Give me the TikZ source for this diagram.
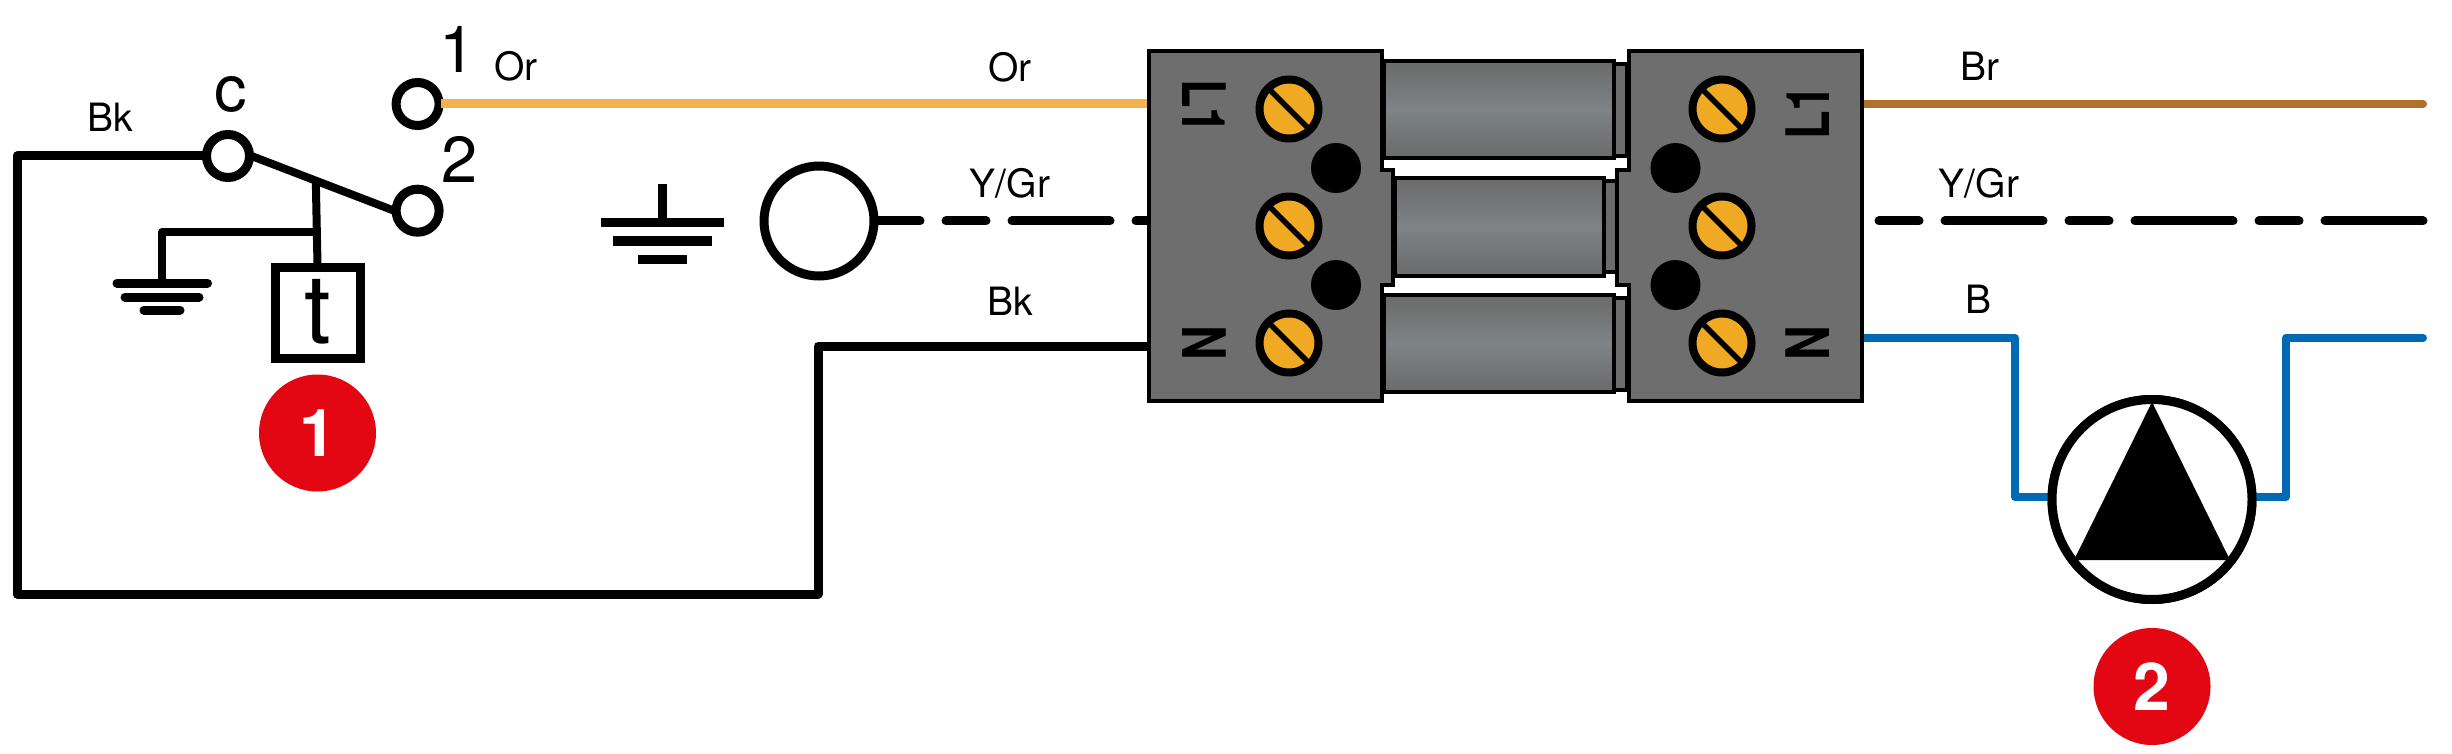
\documentclass[tikz,border=0pt]{standalone}
\usepackage{fontspec}
\setmainfont{TeX Gyre Heros}
\definecolor{wireOr}{HTML}{F5B04F}
\definecolor{wireBr}{HTML}{B36F2C}
\definecolor{wireBl}{HTML}{0069B4}
\definecolor{badge}{HTML}{E30613}
\definecolor{blockgray}{HTML}{6E6E6E}
\definecolor{cylmid}{HTML}{7E8385}
\definecolor{cyledge}{HTML}{6A6A6A}
\definecolor{screwc}{HTML}{EFA922}
\newcommand{\fs}[1]{\fontsize{#1}{#1}\selectfont}
\tikzset{
  wire/.style={line width=9pt,line cap=butt,line join=round,black},
  thinwire/.style={line width=8pt,line join=round,line cap=butt},
  terminal/.style={circle,draw=black,fill=white,line width=9pt,inner sep=0pt,minimum size=43pt,outer sep=2pt},
  lab/.style={inner sep=0pt,anchor=base,font=\fs{39}},
  biglab/.style={inner sep=0pt,anchor=base,font=\fs{65}},
  badgec/.style={circle,fill=badge,text=white,inner sep=0pt,minimum size=117pt,font=\fs{66}\bfseries},
  gbar/.style={line width=9pt,line cap=round},
  ebar/.style={line width=9pt,line cap=butt},
  blockp/.style={draw=black,fill=blockgray,line width=4.5pt,line join=miter},
  cyl/.style={draw=black,line width=4.5pt,top color=cyledge,bottom color=cyledge,middle color=cylmid},
  collar/.style={draw=black,fill=gray!85!black,line width=3.5pt},
  screw/.style={circle,draw=black,fill=screwc,line width=8pt,inner sep=0pt,minimum size=59pt},
  dot/.style={circle,fill=black,inner sep=0pt,minimum size=50pt},
  blocklab/.style={inner sep=0pt,font=\fs{60}\bfseries},
}
\begin{document}
\begin{tikzpicture}[x=1pt,y=-1pt]
\useasboundingbox (0,0) rectangle (2452,754);
% terminals and free connector ends
\node[terminal] (c) at (228,156) {};
\node[terminal] (one) at (417.6,104) {};
\node[terminal] (two) at (417.6,210.7) {};
\node[terminal,minimum size=110pt] (earthc) at (819,221) {};
\node[draw=black,fill=white,line width=9pt,inner sep=0pt,minimum width=85pt,minimum height=91pt,outer sep=2pt] (tbox) at (317.5,312.5) {};
\node[inner sep=0pt,anchor=base,font=\fs{96}] (tlab) at (317.5,343) {t};
\coordinate (lL) at (1150,104);
\coordinate (lE) at (1150,221);
\coordinate (lN) at (1150,346);
\coordinate (rL) at (1862,104);
\coordinate (rEs) at (1879,221);
\coordinate (rN) at (1862,338);
\coordinate (brEnd) at (2423,104);
\coordinate (yEnd) at (2423,221);
\coordinate (blEnd) at (2423,338);
\coordinate (gTop) at (162,283);
\coordinate (blkL) at (17,156);
\coordinate (blkB) at (17,594);
\coordinate (blkR) at (818,594);
\coordinate (blkT) at (818,346);
\node[circle,draw=black,fill=white,line width=9pt,inner sep=0pt,minimum size=200pt,outer sep=2pt] (pump) at (2152,499.5) {};
% wires
\draw[wire,line width=8pt] (c.east) -- coordinate[pos=.451] (jArm) (two.west);
\coordinate (jTap) at (317.5,232);
\draw[wire,line width=8pt] (jArm) -- (tbox.north);
\draw[wire,line width=8pt] (jTap) -- (gTop |- jTap) -- (gTop);
\draw[wire] (c.west) -- (blkL) -- (blkB) -- (blkR) -- (blkT) -- (lN);
\draw[wire,color=wireOr] (one.east) -- (lL);
\draw[wire,line cap=round,dash pattern=on 98pt off 26pt on 40pt off 26pt,dash phase=54pt] (earthc.east) -- (lE);
\draw[wire,line cap=round,dash pattern=on 40pt off 26pt on 98pt off 26pt] (rEs) -- (yEnd);
\draw[thinwire,color=wireBr,line cap=round] (rL) -- (brEnd);
\draw[thinwire,color=wireBl,line cap=round] (rN) -- (2015,338) -- (2015,497) -- (pump.west |- 0,497);
\draw[thinwire,color=wireBl,line cap=round] (pump.east |- 0,497) -- (2286,497) -- (2286,338) -- (blEnd);
% redraw pump over wire ends
\node[circle,draw=black,fill=white,line width=9pt,inner sep=0pt,minimum size=200pt] (pumpface) at (pump) {};
\fill[black] (2152,402) -- (2230,560) -- (2074,560) -- cycle;
% ground at switch
\draw[gbar] (113+4,283) -- (211.5-4,283);
\draw[gbar] (121+4,297) -- (203-4,297);
\draw[gbar] (140+4,310) -- (184-4,310);
% earth symbol
\draw[ebar] (662,184) -- (662,223);
\draw[ebar] (601,223) -- (724,223);
\draw[ebar] (613,241) -- (712,241);
\draw[ebar] (638,259) -- (687,259);
% cylinders
\draw[cyl] (1384,61) rectangle (1614,158);
\draw[collar] (1614,64) rectangle (1627,156);
\draw[cyl] (1395,178) rectangle (1604,276);
\draw[collar] (1604,181) rectangle (1617,272);
\draw[cyl] (1384,295) rectangle (1614,392);
\draw[collar] (1614,298) rectangle (1627,390);
% blocks
\draw[blockp] (1149,51) -- (1382,51) -- (1382,170) -- (1393,170) -- (1393,285) -- (1382,285) -- (1382,401) -- (1149,401) -- cycle;
\draw[blockp] (1862,51) -- (1629,51) -- (1629,170) -- (1617,170) -- (1617,285) -- (1629,285) -- (1629,401) -- (1862,401) -- cycle;
% screws
\foreach \nm/\px/\py in {sa/1289/109,sb/1289/226,sc/1289/343,sd/1722/109,se/1722/226,sf/1722/343}{
  \node[screw] (\nm) at (\px,\py) {};
  \draw[line width=5.5pt,line cap=butt] (\px-20,\py-20) -- (\px+20,\py+20);
}
\node[dot] (da) at (1336,168) {};
\node[dot] (db) at (1336,285) {};
\node[dot] (dc) at (1675.5,168) {};
\node[dot] (dd) at (1675.5,285) {};
% block labels
\node[blocklab,rotate=-90] (l1a) at (1204,106.5) {\scalebox{.78}[1]{L1}};
\node[blocklab,rotate=-90] (na) at (1204,343) {\scalebox{.8}[1]{N}};
\node[blocklab,rotate=90] (l1b) at (1808,112.5) {\scalebox{.78}[1]{L1}};
\node[blocklab,rotate=90] (nb) at (1808,343) {\scalebox{.8}[1]{N}};
% labels
\node[biglab] (lc) at (231,112) {c};
\node[biglab] (l1) at (458,73) {1};
\node[biglab] (l2) at (460,183) {2};
\node[lab] (bk1) at (110.7,132) {Bk};
\node[lab] (or1) at (516,81) {Or};
\node[lab] (or2) at (1010,81.5) {Or};
\node[lab] (yg1) at (1010,198) {Y/Gr};
\node[lab] (bk2) at (1010,315) {Bk};
\node[lab] (br) at (1980,80.5) {Br};
\node[lab] (yg2) at (1979,198) {Y/Gr};
\node[lab] (bl) at (1978.6,313) {B};
% badges
\node[badgec] (b1) at (317.5,433) {1};
\node[badgec] (b2) at (2152,686.5) {2};
\end{tikzpicture}
\end{document}
